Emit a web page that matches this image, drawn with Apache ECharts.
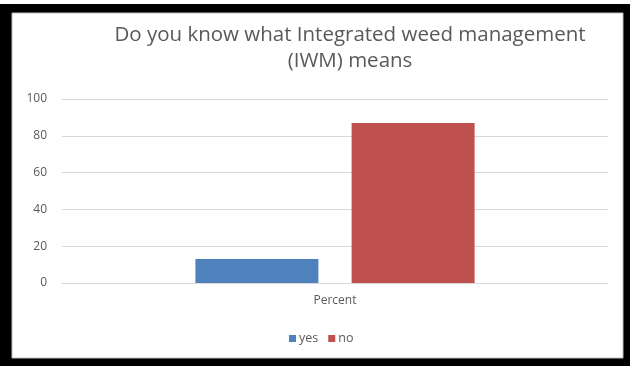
<!DOCTYPE html>
<html>
<head>
<meta charset="utf-8">
<style>html,body{margin:0;padding:0;background:#fff;}#c{width:630px;height:366px;}</style>
<script src="https://cdn.jsdelivr.net/npm/echarts@6/dist/echarts.min.js"></script>
</head>
<body>
<div id="c"></div>
<script>
var titleText = "Do you know what Integrated weed management\n(IWM) means";
var categories = ["Percent"];
var seriesNames = ["yes", "no"];
var yesValues = [13];
var noValues = [87];
var yTicks = [0, 20, 40, 60, 80, 100];

var chart = echarts.init(document.getElementById('c'));
chart.setOption({
  animation: false,
  graphic: [
    {type: 'rect', z: -10, shape: {x: 0, y: 4, width: 630, height: 362}, style: {fill: '#000'}},
    {type: 'rect', z: -9, shape: {x: 12, y: 13, width: 611, height: 345}, style: {fill: '#fff', stroke: '#bfbfbf', lineWidth: 1}}
  ],
  title: {
    text: titleText,
    left: 345, top: 17, textAlign: 'center',
    textStyle: {fontFamily: 'Open Sans', fontSize: 20.5, fontWeight: 'normal', color: '#595959', lineHeight: 26}
  },
  grid: {left: 62, right: 22, top: 99, bottom: 83},
  legend: {
    data: seriesNames, left: 284, top: 327, itemWidth: 7, itemHeight: 7, itemGap: 10,
    icon: 'rect',
    textStyle: {fontFamily: 'Open Sans', fontSize: 12.5, color: '#595959', padding: [0,0,0,-2]}
  },
  xAxis: {
    type: 'category', data: categories,
    axisLine: {lineStyle: {color: '#d9d9d9'}}, axisTick: {show: false},
    axisLabel: {fontFamily: 'Open Sans', fontSize: 12, color: '#595959', margin: 12}
  },
  yAxis: {
    type: 'value', min: yTicks[0], max: yTicks[yTicks.length - 1], interval: 20,
    axisLine: {show: false}, axisTick: {show: false},
    axisLabel: {fontFamily: 'Open Sans', fontSize: 12, color: '#595959', margin: 15},
    splitLine: {lineStyle: {color: '#d9d9d9'}}
  },
  series: [
    {name: seriesNames[0], type: 'bar', data: yesValues, barWidth: 123, barGap: '27%', itemStyle: {color: '#4f81bd'}},
    {name: seriesNames[1], type: 'bar', data: noValues, barWidth: 123, barGap: '27%', itemStyle: {color: '#c0504d'}}
  ]
});
</script>
</body>
</html>
